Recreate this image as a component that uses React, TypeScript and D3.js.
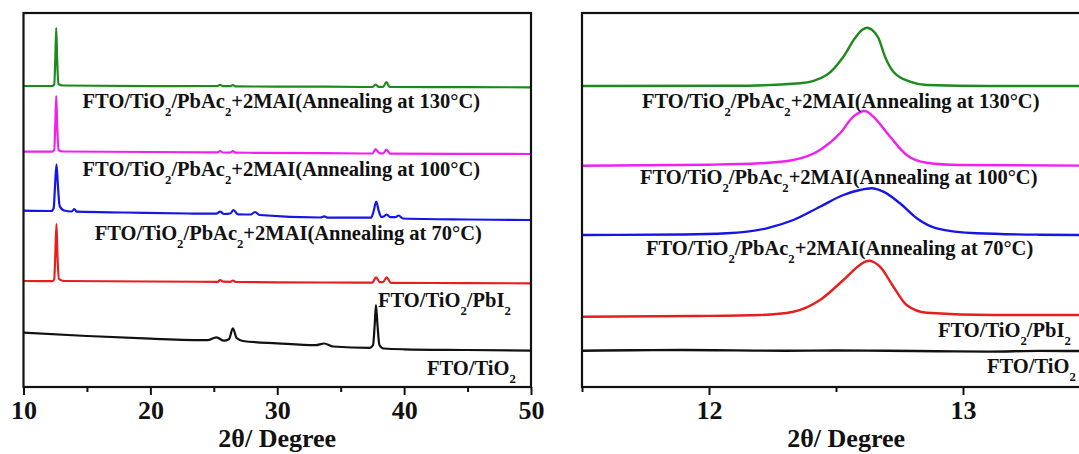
import React, { useEffect, useRef } from 'react';
import * as d3 from 'd3';

// ---- data (2θ in degrees, intensity in arbitrary units, stacked offsets) ----
const wideMajor = [10, 20, 30, 40, 50];
const wideMinor = [15, 25, 35, 45];
const zoomMajor = [12, 13];
const zoomMinor = [11.5, 12.5, 13.5];

const labels130 = 'FTO/TiO_2/PbAc_2+2MAI(Annealing at 130°C)';
const labels100 = 'FTO/TiO_2/PbAc_2+2MAI(Annealing at 100°C)';
const labels70 = 'FTO/TiO_2/PbAc_2+2MAI(Annealing at 70°C)';
const labelPbI2 = 'FTO/TiO_2/PbI_2';
const labelTiO2 = 'FTO/TiO_2';

const wideGreen = [[10, 301], [12.25, 301], [12.42, 302.5], [12.5, 325], [12.58, 359], [12.66, 325], [12.75, 303], [13.1, 301.5], [20, 300.8], [25.3, 301], [25.5, 302.2], [25.7, 300.8], [26.3, 300.8], [26.5, 302], [26.7, 300.6], [33.7, 300.3], [37.5, 300], [37.75, 302.5], [38.0, 300.2], [38.35, 300.2], [38.6, 305], [38.85, 300], [45, 299.8], [50, 299.7]];
const wideMagenta = [[10, 235.3], [12.25, 235.3], [12.42, 236.8], [12.5, 260], [12.58, 291], [12.66, 260], [12.76, 237], [13.1, 235.5], [20, 235], [25.3, 234.6], [25.5, 236], [25.7, 234.5], [26.3, 234.4], [26.5, 236], [26.7, 234.3], [28.2, 234.2], [33.7, 233.8], [37.5, 233.5], [37.75, 237.8], [38.05, 233.8], [38.35, 233.6], [38.6, 237.3], [38.9, 233.3], [45, 233.1], [50, 233]];
const wideBlue = [[10, 176.3], [12.2, 176], [12.38, 179], [12.48, 200], [12.6, 222.7], [12.72, 200], [12.85, 181], [13.2, 176.5], [13.8, 175.5], [14.0, 178], [14.2, 175.3], [18, 174.5], [23, 173.5], [25.2, 173.3], [25.5, 175.3], [25.8, 173], [26.3, 173.5], [26.55, 177], [26.9, 172.7], [27.9, 172.5], [28.25, 175], [28.6, 172], [33.4, 169.5], [33.7, 170.7], [34.0, 169.3], [37.4, 169.3], [37.6, 176], [37.8, 185.3], [38.0, 176], [38.2, 170], [38.4, 170.5], [38.62, 172.5], [38.9, 169.8], [39.3, 169.8], [39.57, 171.5], [39.9, 168.5], [45, 167.5], [50, 167]];
const wideRed = [[10, 106], [12.25, 105.8], [12.42, 107.5], [12.5, 130], [12.6, 163], [12.68, 130], [12.8, 108], [13.2, 106], [20, 105.5], [25.3, 105.2], [25.5, 107], [25.75, 105.3], [26.3, 105.2], [26.5, 106.5], [26.75, 105], [33.7, 104.5], [37.5, 104.3], [37.78, 109.7], [38.1, 104.8], [38.35, 105], [38.62, 109.7], [38.95, 104.2], [45, 103.9], [50, 103.7]];
const wideBlack = [[10, 54.3], [15, 51], [20, 48.3], [24.5, 46.8], [25.2, 49.7], [25.8, 46.3], [26.2, 48], [26.5, 58.7], [26.8, 49], [27.3, 46], [30, 43.7], [33, 41.8], [33.7, 43.5], [34.4, 40.5], [37.3, 39.2], [37.55, 42], [37.68, 62], [37.78, 82], [37.9, 62], [38.05, 42], [38.4, 38.5], [40, 37.7], [45, 37], [50, 36.3]];

const zoomGreen = [[11.5, 301], [12.1, 301.2], [12.358, 303.7], [12.463, 312], [12.529, 330.3], [12.575, 349], [12.605, 357.5], [12.622, 359.3], [12.64, 357.5], [12.667, 349], [12.693, 330.3], [12.726, 315.3], [12.791, 305.3], [12.857, 302], [13.1, 301], [13.5, 301]];
const zoomMagenta = [[11.5, 221.3], [12.0, 222.3], [12.201, 223.7], [12.332, 227], [12.437, 237], [12.516, 253.7], [12.568, 270.3], [12.595, 274.8], [12.61, 276], [12.625, 275], [12.647, 270.3], [12.713, 250.3], [12.778, 232], [12.857, 224.3], [12.988, 222], [13.5, 221.3]];
const zoomBlue = [[11.5, 152], [11.9, 152.5], [12.07, 153.7], [12.227, 158.7], [12.332, 167], [12.437, 180.3], [12.529, 192], [12.594, 197], [12.64, 198.7], [12.686, 195.3], [12.752, 183.7], [12.818, 168.7], [12.896, 158.7], [13.054, 153.7], [13.3, 152.3], [13.5, 152]];
const zoomRed = [[11.5, 70.3], [11.938, 71], [12.201, 72], [12.332, 75.3], [12.437, 87], [12.529, 107], [12.594, 122], [12.618, 125.6], [12.631, 126.3], [12.648, 125], [12.673, 120.3], [12.726, 100.3], [12.778, 82], [12.857, 74.3], [13.119, 72], [13.5, 72]];
const zoomBlack = [[11.5, 36.3], [11.7, 36.8], [11.9, 37], [12.1, 36.6], [12.3, 36.2], [12.5, 36.5], [12.7, 36.3], [12.9, 35.8], [13.1, 35.4], [13.3, 36.1], [13.5, 36]];

const colors = { green: '#1c8a1c', magenta: '#f020f0', blue: '#1515e6', red: '#e61e1e', black: '#111' };

const FONT = '"Liberation Serif", "Times New Roman", Times, serif';
const W = 1079, H = 454;
const top = 13, bottom = 387;

const Label = ({ x, y, text, size = 20.5 }) => {
  const parts = text.split(/(_2)/).filter(s => s.length);
  const out = [];
  let shifted = false;
  parts.forEach((p, i) => {
    if (p === '_2') {
      out.push(<tspan key={i} fontSize={size * 0.62} dy={8}>2</tspan>);
      shifted = true;
    } else {
      out.push(<tspan key={i} dy={shifted ? -8 : 0}>{p}</tspan>);
      shifted = false;
    }
  });
  return <text x={x} y={y} fontFamily={FONT} fontWeight="bold" fontSize={size} fill="#111">{out}</text>;
};

const App = () => {
  const axRef = useRef();

  const xW = d3.scaleLinear().domain([10, 50]).range([23.5, 531]);
  const xZ = d3.scaleLinear().domain([11.5, 13.5]).range([582, 1090]);
  const y = d3.scaleLinear().domain([0, bottom - top]).range([bottom, top]);

  const lineW = d3.line().x(d => xW(d[0])).y(d => y(d[1])).curve(d3.curveMonotoneX);
  const lineZ = d3.line().x(d => xZ(d[0])).y(d => y(d[1])).curve(d3.curveMonotoneX);

  useEffect(() => {
    const g = d3.select(axRef.current);
    g.selectAll('*').remove();
    const axis = (scale, major, minor) => {
      const a = g.append('g').attr('transform', `translate(0,${bottom})`);
      a.call(d3.axisBottom(scale).tickValues(major).tickSize(8).tickSizeOuter(0).tickPadding(5).tickFormat(d3.format('d')))
        .call(s => s.select('.domain').remove())
        .call(s => s.selectAll('line').attr('stroke', '#111').attr('stroke-width', 2))
        .call(s => s.selectAll('text')
          .attr('font-family', FONT).attr('font-weight', 'bold').attr('font-size', 26).attr('fill', '#111')
          .attr('dy', '0.74em'));
      const m = g.append('g').attr('transform', `translate(0,${bottom})`);
      m.call(d3.axisBottom(scale).tickValues(minor).tickSize(5).tickSizeOuter(0).tickFormat(() => ''))
        .call(s => s.select('.domain').remove())
        .call(s => s.selectAll('line').attr('stroke', '#111').attr('stroke-width', 2));
    };
    axis(xW, wideMajor, wideMinor);
    axis(xZ, zoomMajor, zoomMinor);
  }, []);

  const wideSeries = [[wideGreen, colors.green], [wideMagenta, colors.magenta], [wideBlue, colors.blue], [wideRed, colors.red], [wideBlack, colors.black]];
  const zoomSeries = [[zoomGreen, colors.green], [zoomMagenta, colors.magenta], [zoomBlue, colors.blue], [zoomRed, colors.red], [zoomBlack, colors.black]];

  return (
    <svg width={W} height={H} style={{ position: 'absolute', left: 0, top: 0, background: '#fff' }}>
      <defs>
        <clipPath id="clipW"><rect x={xW(10)} y={top} width={xW(50) - xW(10)} height={bottom - top} /></clipPath>
        <clipPath id="clipZ"><rect x={xZ(11.5)} y={top} width={xZ(13.5) - xZ(11.5)} height={bottom - top} /></clipPath>
      </defs>
      <g clipPath="url(#clipW)">
        {wideSeries.map(([d, c], i) => (
          <path key={i} d={lineW(d)} fill="none" stroke={c} strokeWidth={2.2} strokeLinejoin="round" />
        ))}
      </g>
      <g clipPath="url(#clipZ)">
        {zoomSeries.map(([d, c], i) => (
          <path key={i} d={lineZ(d)} fill="none" stroke={c} strokeWidth={2.4} strokeLinejoin="round" />
        ))}
      </g>
      <rect x={xW(10)} y={top} width={xW(50) - xW(10)} height={bottom - top} fill="none" stroke="#111" strokeWidth={2.2} />
      <rect x={xZ(11.5)} y={top} width={xZ(13.5) - xZ(11.5)} height={bottom - top} fill="none" stroke="#111" strokeWidth={2.2} />
      <g ref={axRef} />

      <Label x={82.6} y={108} text={labels130} />
      <Label x={82.6} y={175.5} text={labels100} />
      <Label x={94.7} y={240} text={labels70} />
      <Label x={378} y={307} text={labelPbI2} />
      <Label x={427} y={375} text={labelTiO2} />

      <Label x={642} y={108} text={labels130} />
      <Label x={640} y={183.5} text={labels100} />
      <Label x={646} y={255} text={labels70} />
      <Label x={938} y={337} text={labelPbI2} />
      <Label x={987} y={373} text={labelTiO2} />

      <text x={(xW(10) + xW(50)) / 2} y={447} textAnchor="middle" fontFamily={FONT} fontWeight="bold" fontSize={26} fill="#111">2θ/ Degree</text>
      <text x={xZ(12.54)} y={447} textAnchor="middle" fontFamily={FONT} fontWeight="bold" fontSize={26} fill="#111">2θ/ Degree</text>
    </svg>
  );
};

export default App;
